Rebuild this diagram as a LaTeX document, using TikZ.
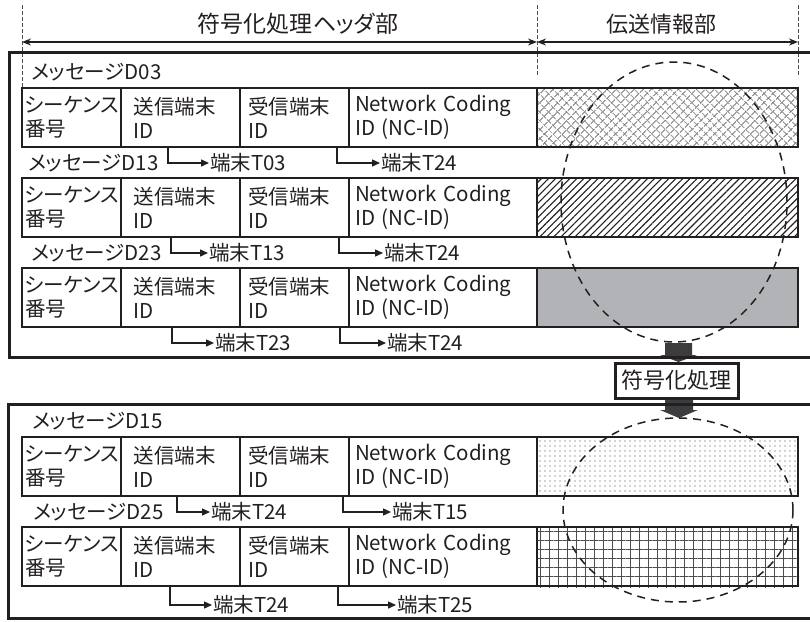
\documentclass[tikz,border=0pt]{standalone}
\usepackage{fontspec}
\setmainfont{Noto Sans CJK JP}[RawFeature=+palt]
\usetikzlibrary{arrows.meta,patterns.meta}
\definecolor{ink}{RGB}{35,31,32}
\definecolor{blockc}{RGB}{60,60,62}
\definecolor{solidgray}{RGB}{178,179,182}
\tikzset{
  cell/.style={draw=ink, line width=1.8pt, anchor=north west, inner sep=3pt, outer sep=0pt,
    minimum height=59pt, align=left, font=\fontsize{20.5}{24}\selectfont, text=ink},
  pay/.style={draw=ink, line width=1.8pt, anchor=north west, inner sep=0pt, outer sep=0pt,
    minimum height=59pt, minimum width=261pt},
  lab/.style={anchor=west, inner sep=1pt, font=\fontsize{20.5}{24}\selectfont, text=ink},
  larr/.style={draw=ink, line width=1.4pt, -{Triangle[length=8pt,width=7pt]}},
  outer/.style={draw=ink, line width=3pt},
  guide/.style={draw=ink!80, line width=0.8pt, dash pattern=on 4pt off 2pt},
  dimarr/.style={draw=ink, line width=1.3pt, {Stealth[length=9pt,width=7pt]}-{Stealth[length=9pt,width=7pt]}},
  ell/.style={draw=ink, line width=1.5pt, dash pattern=on 8pt off 6pt},
  block/.style={fill=blockc, draw=none}
}
\newcommand\myrow[2]{%
  \node[cell, minimum width=99pt, text width=93pt] (#1a) at (22,#2) {シーケンス\\番号};
  \node[cell, minimum width=119pt, text width=104pt] (#1b) at (121,#2) {\hspace*{5pt}送信端末\\\hspace*{5pt}ID};
  \node[cell, minimum width=109pt, text width=103pt] (#1c) at (240,#2) {\hspace*{5pt}受信端末\\\hspace*{5pt}ID};
  \node[cell, minimum width=188pt, text width=182pt] (#1d) at (349,#2) {\hspace*{3pt}Network Coding\\\hspace*{3pt}ID (NC-ID)};
}
\begin{document}
\begin{tikzpicture}[x=1pt,y=-1pt]
\useasboundingbox[fill=white] (0,0) rectangle (810,621);

% header guides and dimension arrows
\coordinate (g1t) at (22,5);   \coordinate (g1b) at (22,88);
\coordinate (g2t) at (537,5);  \coordinate (g2b) at (537,75);
\coordinate (g3t) at (798,5);  \coordinate (g3b) at (798,75);
\draw[guide] (g1t) -- (g1b);
\draw[guide] (g2t) -- (g2b);
\draw[guide] (g3t) -- (g3b);
\coordinate (d1) at (22,42); \coordinate (d2) at (537,42); \coordinate (d3) at (798,42);
\draw[dimarr] (d1) -- (d2);
\draw[dimarr] (d2) -- (d3);
\node[font=\fontsize{23}{27}\selectfont, text=ink] (hdr) at (298,24) {符号化処理ヘッダ部};
\node[font=\fontsize{22}{26}\selectfont, text=ink] (pay) at (661,24) {伝送情報部};

% block arrows
\fill[block] (665,343) -- (692,343) -- (692,355) -- (697,355) -- (678.5,362) -- (660,355) -- (665,355) -- cycle;
\fill[block] (665,398) -- (693,398) -- (693,410) -- (698,410) -- (679,418) -- (660,410) -- (665,410) -- cycle;

% outer boxes
\draw[outer] (9,52) rectangle (816,357);
\draw[outer] (8,404) rectangle (816,618);

% top section
\node[lab] (m03) at (30,72) {メッセージD03};
\myrow{ra}{88}
\path[pattern={Lines[angle=45,distance=6.4pt,line width=1pt]}, pattern color=ink!65] (537,88) rectangle (798,147);
\path[pattern={Lines[angle=-45,distance=6.4pt,line width=1pt]}, pattern color=ink!65] (537,88) rectangle (798,147);
\node[pay] (pa) at (537,88) {};
\node[lab] (m13) at (27,163) {メッセージD13};
\node[lab] (ta1) at (209,163) {端末T03};
\node[lab] (ta2) at (380,163) {端末T24};
\coordinate (sa1) at (168,147); \coordinate (sa2) at (337,147);
\draw[larr] (sa1) |- (ta1.west);
\draw[larr] (sa2) |- (ta2.west);

\myrow{rb}{178}
\node[pay, pattern={Lines[angle=45,distance=5pt,line width=1.1pt]}, pattern color=ink] (pb) at (537,178) {};
\node[lab] (m23) at (30,253) {メッセージD23};
\node[lab] (tb1) at (208,253) {端末T13};
\node[lab] (tb2) at (383,253) {端末T24};
\coordinate (sb1) at (171,236); \coordinate (sb2) at (339,236);
\draw[larr] (sb1) |- (tb1.west);
\draw[larr] (sb2) |- (tb2.west);

\myrow{rc}{268}
\node[pay, fill=solidgray] (pc) at (537,268) {};
\node[lab] (tc1) at (214,343) {端末T23};
\node[lab] (tc2) at (386,343) {端末T24};
\coordinate (sc1) at (172,327); \coordinate (sc2) at (340,327);
\draw[larr] (sc1) |- (tc1.west);
\draw[larr] (sc2) |- (tc2.west);

% coding box
\node[draw=ink, line width=3pt, fill=white, minimum width=123pt, minimum height=35pt, inner sep=0pt,
  font=\fontsize{22}{26}\selectfont, text=ink] (enc) at (676.5,380.5) {符号化処理};

% bottom section
\node[lab] (m15) at (31,421) {メッセージD15};
\myrow{rd}{437}
\node[pay, pattern={Dots[radius=0.6pt,distance=5pt]}, pattern color=ink!85] (pd) at (537,437) {};
\node[lab] (m25) at (32,512) {メッセージD25};
\node[lab] (td1) at (210,512) {端末T24};
\node[lab] (td2) at (391,512) {端末T15};
\coordinate (sd1) at (177,495); \coordinate (sd2) at (343,495);
\draw[larr] (sd1) |- (td1.west);
\draw[larr] (sd2) |- (td2.west);

\myrow{re}{527}
\path[pattern={Lines[angle=0,distance=9pt,line width=1pt]}, pattern color=ink!80] (537,527) rectangle (799,587);
\path[pattern={Lines[angle=90,distance=9pt,line width=1pt]}, pattern color=ink!80] (537,527) rectangle (799,587);
\node[pay] (pe) at (537,527) {};
\node[lab] (te1) at (212,605) {端末T24};
\node[lab] (te2) at (396,605) {端末T25};
\coordinate (se1) at (170,587); \coordinate (se2) at (338,587);
\draw[larr] (se1) |- (te1.west);
\draw[larr] (se2) |- (te2.west);

% ellipses
\draw[ell] (674,202) ellipse [x radius=113pt, y radius=140pt];
\draw[ell] (678,510) ellipse [x radius=115pt, y radius=92pt];
\end{tikzpicture}
\end{document}
